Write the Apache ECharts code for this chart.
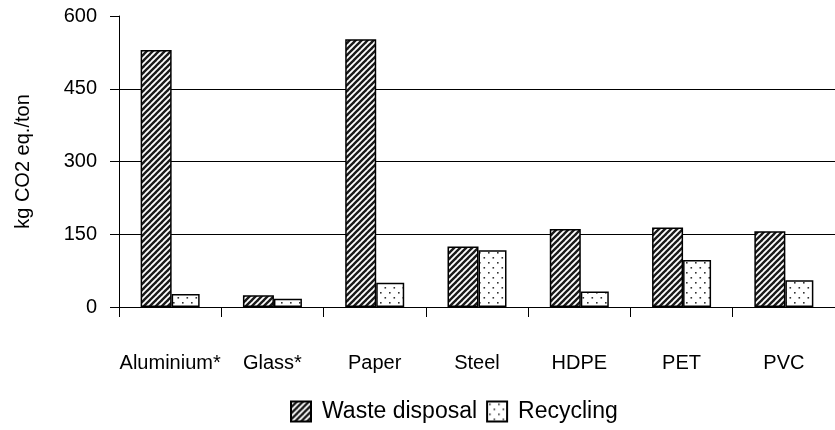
<!DOCTYPE html>
<html><head><meta charset="utf-8">
<script src="https://cdn.jsdelivr.net/npm/echarts@6/dist/echarts.min.js"></script>
<style>html,body{margin:0;padding:0;background:#fff}#c{width:835px;height:430px}</style>
</head><body><div id="c"></div>
<script>
const categories = ['Aluminium*', 'Glass*', 'Paper', 'Steel', 'HDPE', 'PET', 'PVC'];
const wasteDisposal = [530, 24, 552, 125, 161, 164, 156];
const recycling = [27, 17, 50, 117, 32, 97, 55];
const yTicks = [0, 150, 300, 450, 600];

function hatch() {
  const c = document.createElement('canvas');
  c.width = 6; c.height = 6;
  const g = c.getContext('2d');
  g.fillStyle = '#fff'; g.fillRect(0, 0, 6, 6);
  g.strokeStyle = '#1a1a1a'; g.lineWidth = 2.4;
  for (const o of [-6, 0, 6]) {
    g.beginPath(); g.moveTo(o - 1, 7); g.lineTo(o + 7, -1); g.stroke();
  }
  return { image: c, repeat: 'repeat' };
}
function dots() {
  const c = document.createElement('canvas');
  c.width = 9; c.height = 10;
  const g = c.getContext('2d');
  g.fillStyle = '#fff'; g.fillRect(0, 0, 9, 10);
  g.fillStyle = '#333';
  g.fillRect(2, 2, 1.6, 1.6);
  g.fillRect(6.5, 7, 1.6, 1.6);
  return { image: c, repeat: 'repeat' };
}

const font = 'Liberation Sans, Arial, sans-serif';
const chart = echarts.init(document.getElementById('c'));
chart.setOption({
  animation: false,
  backgroundColor: '#fff',
  grid: { left: 119, top: 16, width: 723, height: 291 },
  legend: {
    top: 400, left: 290, padding: 0,
    itemWidth: 20, itemHeight: 20, itemGap: 9,
    icon: 'rect',
    textStyle: { fontFamily: font, fontSize: 23, color: '#000', padding: [0, 0, 0, 6] },
    data: ['Waste disposal', 'Recycling']
  },
  xAxis: {
    type: 'category', data: categories,
    axisLine: { lineStyle: { color: '#000', width: 1 } },
    axisTick: { show: true, length: 10, lineStyle: { color: '#000' } },
    axisLabel: { margin: 46, fontFamily: font, fontSize: 20, color: '#000', interval: 0 }
  },
  yAxis: {
    type: 'value', min: yTicks[0], max: yTicks[yTicks.length - 1], interval: 150,
    name: 'kg CO2 eq./ton', nameLocation: 'middle', nameGap: 86,
    nameTextStyle: { fontFamily: font, fontSize: 20, color: '#000' },
    axisLine: { show: true, lineStyle: { color: '#000', width: 1 } },
    axisTick: { show: true, length: 9, lineStyle: { color: '#000' } },
    axisLabel: { margin: 22, fontFamily: font, fontSize: 20, color: '#000' },
    splitLine: { show: true, lineStyle: { color: ['#000', '#000', '#000', '#000', 'rgba(0,0,0,0)'], width: 1 } }
  },
  series: [
    { name: 'Waste disposal', type: 'bar', data: wasteDisposal, barWidth: 31, barGap: '0%',
      itemStyle: { color: hatch(), borderColor: '#000', borderWidth: 1.5 } },
    { name: 'Recycling', type: 'bar', data: recycling, barWidth: 28,
      itemStyle: { color: dots(), borderColor: '#000', borderWidth: 1.5 } }
  ]
});
</script></body></html>
